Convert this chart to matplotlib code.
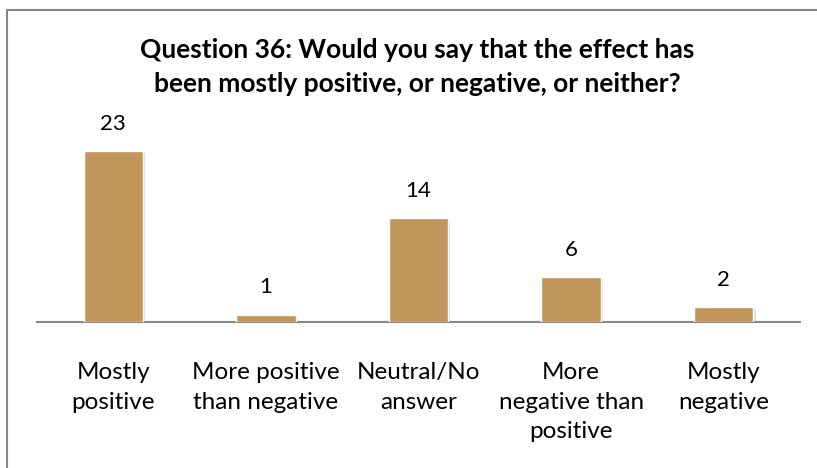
import matplotlib
matplotlib.use('Agg')
import matplotlib.pyplot as plt
import matplotlib.patheffects as pe
from matplotlib.patches import Rectangle

categories = ['Mostly\npositive', 'More positive\nthan negative', 'Neutral/No\nanswer',
              'More\nnegative than\npositive', 'Mostly\nnegative']
counts = [23, 1, 14, 6, 2]
title = 'Question 36: Would you say that the effect has\nbeen mostly positive, or negative, or neither?'

plt.rcParams['font.family'] = ['Lato', 'DejaVu Sans']

fig = plt.figure(figsize=(8.17, 4.68), dpi=100)
# chart border, runs off the right and bottom edges
fig.patches.append(Rectangle((7/817, -0.1), 1.2, 1.1 - 10/468, transform=fig.transFigure,
                             fill=False, edgecolor='#868686', linewidth=1.5))

ax = fig.add_axes([37/817, 146/468, 763/817, 186/468])
x = range(len(categories))
bars = ax.bar(x, counts, width=0.39, color='#C0965B', edgecolor='white', linewidth=1,
              zorder=3)
for b in bars:
    b.set_path_effects([pe.SimplePatchShadow(offset=(1.5, -1.5), shadow_rgbFace='#999999',
                                             alpha=0.35), pe.Normal()])

for xi, v in zip(x, counts):
    ax.text(xi, v + 2.3, str(v), ha='center', va='bottom', fontsize=16)

ax.set_xlim(-0.5, len(categories) - 0.5)
ax.set_ylim(0, 25)
for s in ['top', 'right', 'left']:
    ax.spines[s].set_visible(False)
ax.spines['bottom'].set_color('#888888')
ax.spines['bottom'].set_linewidth(1.5)
ax.set_yticks([])
ax.set_xticks(list(x))
ax.set_xticklabels(categories, fontsize=17.5, linespacing=1.5, va='top')
ax.tick_params(axis='x', length=0, pad=29)

fig.text(417/817, 1 - 67/468, title, ha='center', va='center', fontsize=19,
         fontweight='bold', linespacing=1.5)

fig.savefig('out.png', dpi=100)
